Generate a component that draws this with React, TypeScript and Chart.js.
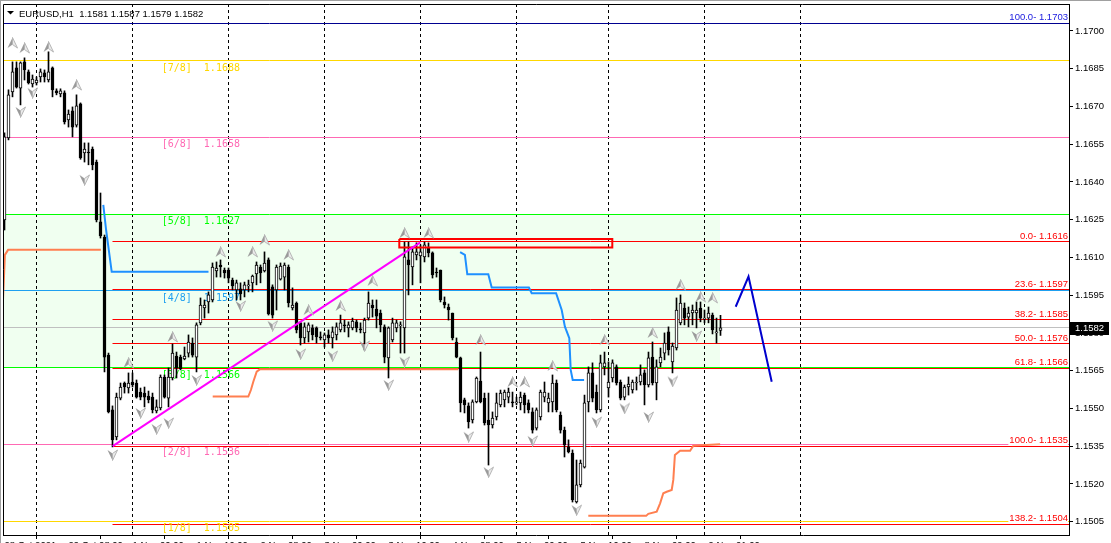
import React, { useEffect, useRef } from 'react';
import { Chart, registerables } from 'chart.js';

Chart.register(...registerables);

// ---------------- data ----------------
const SYMBOL = 'EURUSD,H1';
// sequential bar index: 0 = 29 Oct 00:00 ; first visible bar = 28 Oct 16:00
const FIRST_BAR = -8;

const OPEN = [
  1.16249, 1.16575, 1.16758, 1.16853, 1.16773, 1.16877, 1.16837, 1.16789, 1.16793, 1.16817,
  1.16833, 1.16805, 1.16853, 1.16762, 1.16750, 1.16754, 1.16646, 1.16682, 1.16626, 1.16710,
  1.16515, 1.16519, 1.16531, 1.16479, 1.16241, 1.16181, 1.15712, 1.15494, 1.15387, 1.15541,
  1.15601, 1.15581, 1.15605, 1.15601, 1.15565, 1.15561, 1.15549, 1.15545, 1.15490, 1.15502,
  1.15625, 1.15541, 1.15621, 1.15708, 1.15704, 1.15697, 1.15720, 1.15760, 1.15704, 1.15840,
  1.15899, 1.15923, 1.15931, 1.16046, 1.16070, 1.16050, 1.16050, 1.16010, 1.15971, 1.15975,
  1.15971, 1.15987, 1.15999, 1.16034, 1.16062, 1.16046, 1.16090, 1.15983, 1.15971, 1.16014,
  1.16022, 1.16062, 1.15899, 1.15919, 1.15840, 1.15780, 1.15804, 1.15820, 1.15820, 1.15784,
  1.15772, 1.15792, 1.15780, 1.15792, 1.15812, 1.15832, 1.15820, 1.15820, 1.15844, 1.15816,
  1.15800, 1.15859, 1.15911, 1.15895, 1.15879, 1.15824, 1.15701, 1.15772, 1.15820, 1.15828,
  1.15820, 1.16090, 1.16062, 1.16110, 1.16106, 1.16102, 1.16138, 1.16118, 1.16042, 1.16050,
  1.15923, 1.15903, 1.15879, 1.15764, 1.15701, 1.15534, 1.15510, 1.15454, 1.15526, 1.15609,
  1.15541, 1.15454, 1.15434, 1.15466, 1.15514, 1.15534, 1.15545, 1.15526, 1.15522, 1.15522,
  1.15553, 1.15522, 1.15486, 1.15422, 1.15466, 1.15545, 1.15522, 1.15526, 1.15601, 1.15474,
  1.15414, 1.15347, 1.15323, 1.15128, 1.15196, 1.15267, 1.15526, 1.15641, 1.15565, 1.15494,
  1.15665, 1.15581, 1.15621, 1.15665, 1.15605, 1.15545, 1.15585, 1.15573, 1.15601, 1.15605,
  1.15641, 1.15593, 1.15704, 1.15601, 1.15681, 1.15720, 1.15804, 1.15685, 1.15740, 1.15840,
  1.15899, 1.15863, 1.15879, 1.15879, 1.15899, 1.15855, 1.15859, 1.15871, 1.15800, 1.15810,
];
const HIGH = [
  1.16595, 1.16766, 1.16877, 1.16877, 1.16877, 1.16893, 1.16845, 1.16825, 1.16817, 1.16849,
  1.16845, 1.16917, 1.16857, 1.16770, 1.16770, 1.16762, 1.16686, 1.16698, 1.16746, 1.16714,
  1.16555, 1.16555, 1.16539, 1.16487, 1.16356, 1.16189, 1.15720, 1.15510, 1.15561, 1.15601,
  1.15605, 1.15641, 1.15641, 1.15613, 1.15581, 1.15585, 1.15569, 1.15561, 1.15534, 1.15633,
  1.15633, 1.15661, 1.15756, 1.15724, 1.15712, 1.15744, 1.15792, 1.15780, 1.15840, 1.15939,
  1.15931, 1.15963, 1.16078, 1.16082, 1.16090, 1.16058, 1.16058, 1.16018, 1.16010, 1.15999,
  1.16002, 1.16010, 1.16030, 1.16082, 1.16070, 1.16122, 1.16098, 1.15991, 1.16070, 1.16078,
  1.16078, 1.16070, 1.15979, 1.15923, 1.15844, 1.15840, 1.15840, 1.15832, 1.15824, 1.15804,
  1.15800, 1.15812, 1.15824, 1.15840, 1.15871, 1.15851, 1.15844, 1.15859, 1.15851, 1.15840,
  1.15859, 1.15963, 1.15931, 1.15931, 1.15891, 1.15832, 1.15824, 1.15859, 1.15851, 1.15844,
  1.16161, 1.16161, 1.16142, 1.16158, 1.16150, 1.16161, 1.16158, 1.16122, 1.16058, 1.16050,
  1.15943, 1.15915, 1.15879, 1.15780, 1.15704, 1.15541, 1.15522, 1.15534, 1.15625, 1.15724,
  1.15561, 1.15561, 1.15486, 1.15561, 1.15573, 1.15573, 1.15581, 1.15565, 1.15545, 1.15565,
  1.15561, 1.15534, 1.15502, 1.15502, 1.15573, 1.15605, 1.15561, 1.15633, 1.15613, 1.15486,
  1.15426, 1.15375, 1.15335, 1.15295, 1.15295, 1.15553, 1.15665, 1.15681, 1.15593, 1.15712,
  1.15724, 1.15685, 1.15693, 1.15673, 1.15613, 1.15593, 1.15625, 1.15613, 1.15625, 1.15673,
  1.15653, 1.15724, 1.15764, 1.15693, 1.15740, 1.15800, 1.15824, 1.15760, 1.15939, 1.15951,
  1.15919, 1.15903, 1.15911, 1.15923, 1.15923, 1.15891, 1.15903, 1.15879, 1.15859, 1.15870,
];
const LOW = [
  1.16209, 1.16567, 1.16738, 1.16773, 1.16706, 1.16805, 1.16789, 1.16777, 1.16785, 1.16797,
  1.16797, 1.16797, 1.16738, 1.16746, 1.16738, 1.16630, 1.16618, 1.16579, 1.16618, 1.16490,
  1.16479, 1.16468, 1.16448, 1.16241, 1.16177, 1.15645, 1.15482, 1.15347, 1.15375, 1.15534,
  1.15561, 1.15561, 1.15585, 1.15541, 1.15534, 1.15506, 1.15522, 1.15482, 1.15482, 1.15494,
  1.15541, 1.15506, 1.15613, 1.15621, 1.15653, 1.15693, 1.15704, 1.15704, 1.15645, 1.15832,
  1.15859, 1.15879, 1.15923, 1.16022, 1.16022, 1.16018, 1.15999, 1.15971, 1.15931, 1.15931,
  1.15943, 1.15963, 1.15963, 1.15991, 1.15999, 1.16042, 1.15871, 1.15859, 1.15891, 1.16010,
  1.15971, 1.15903, 1.15891, 1.15800, 1.15752, 1.15760, 1.15764, 1.15772, 1.15760, 1.15772,
  1.15744, 1.15760, 1.15740, 1.15772, 1.15804, 1.15804, 1.15784, 1.15812, 1.15804, 1.15800,
  1.15732, 1.15851, 1.15863, 1.15820, 1.15804, 1.15681, 1.15621, 1.15764, 1.15804, 1.15720,
  1.15720, 1.15951, 1.15991, 1.16090, 1.15999, 1.16082, 1.16102, 1.16018, 1.16022, 1.15923,
  1.15899, 1.15851, 1.15772, 1.15701, 1.15486, 1.15482, 1.15422, 1.15442, 1.15522, 1.15522,
  1.15434, 1.15275, 1.15422, 1.15454, 1.15506, 1.15506, 1.15522, 1.15506, 1.15514, 1.15494,
  1.15482, 1.15482, 1.15402, 1.15414, 1.15454, 1.15526, 1.15486, 1.15486, 1.15486, 1.15402,
  1.15307, 1.15323, 1.15128, 1.15124, 1.15188, 1.15263, 1.15486, 1.15526, 1.15482, 1.15486,
  1.15633, 1.15545, 1.15605, 1.15593, 1.15534, 1.15534, 1.15553, 1.15561, 1.15573, 1.15593,
  1.15514, 1.15585, 1.15593, 1.15534, 1.15665, 1.15693, 1.15712, 1.15641, 1.15732, 1.15832,
  1.15832, 1.15824, 1.15832, 1.15820, 1.15844, 1.15840, 1.15840, 1.15796, 1.15760, 1.15790,
];
const CLOSE = [
  1.16579, 1.16746, 1.16837, 1.16777, 1.16873, 1.16845, 1.16793, 1.16809, 1.16805, 1.16837,
  1.16817, 1.16837, 1.16766, 1.16754, 1.16762, 1.16638, 1.16670, 1.16618, 1.16702, 1.16495,
  1.16531, 1.16515, 1.16468, 1.16249, 1.16185, 1.15704, 1.15486, 1.15375, 1.15545, 1.15585,
  1.15585, 1.15601, 1.15593, 1.15545, 1.15545, 1.15545, 1.15534, 1.15494, 1.15506, 1.15625,
  1.15545, 1.15625, 1.15720, 1.15661, 1.15657, 1.15708, 1.15764, 1.15712, 1.15832, 1.15911,
  1.15911, 1.15951, 1.16062, 1.16058, 1.16062, 1.16038, 1.16018, 1.15987, 1.15999, 1.15955,
  1.15991, 1.15987, 1.16026, 1.16070, 1.16038, 1.16078, 1.15875, 1.15871, 1.16062, 1.16066,
  1.16070, 1.15919, 1.15911, 1.15812, 1.15780, 1.15824, 1.15832, 1.15792, 1.15784, 1.15780,
  1.15792, 1.15780, 1.15804, 1.15824, 1.15840, 1.15828, 1.15832, 1.15847, 1.15820, 1.15812,
  1.15851, 1.15919, 1.15899, 1.15867, 1.15832, 1.15704, 1.15820, 1.15840, 1.15840, 1.15832,
  1.16102, 1.16070, 1.16122, 1.16122, 1.16122, 1.16150, 1.16118, 1.16030, 1.16038, 1.15931,
  1.15911, 1.15891, 1.15780, 1.15704, 1.15522, 1.15514, 1.15446, 1.15526, 1.15621, 1.15526,
  1.15442, 1.15434, 1.15462, 1.15522, 1.15561, 1.15565, 1.15565, 1.15522, 1.15522, 1.15545,
  1.15514, 1.15494, 1.15414, 1.15494, 1.15565, 1.15565, 1.15541, 1.15601, 1.15494, 1.15414,
  1.15355, 1.15327, 1.15136, 1.15196, 1.15283, 1.15522, 1.15641, 1.15541, 1.15494, 1.15681,
  1.15681, 1.15605, 1.15681, 1.15601, 1.15541, 1.15585, 1.15597, 1.15605, 1.15601, 1.15633,
  1.15593, 1.15701, 1.15601, 1.15665, 1.15704, 1.15760, 1.15732, 1.15748, 1.15891, 1.15919,
  1.15859, 1.15879, 1.15891, 1.15891, 1.15859, 1.15855, 1.15879, 1.15812, 1.15800, 1.15820,
];

// visible window (bar units / price)
const X_MIN = -8.375;
const X_MAX = 258.125;
const Y_MIN = 1.14997;
const Y_MAX = 1.17107;

const PRICE_TICKS = [
  1.1505, 1.152, 1.1535, 1.155, 1.1565, 1.158, 1.1595, 1.161, 1.1625, 1.164, 1.1655, 1.167, 1.1685, 1.17,
];
const TIME_TICK_BARS = [-8, 8, 24, 40, 56, 72, 88, 104, 120, 136, 152, 168];
const TIME_TICK_LABELS = [
  '28 Oct 2021', '29 Oct 08:00', '1 Nov 00:00', '1 Nov 16:00', '2 Nov 08:00', '3 Nov 00:00',
  '3 Nov 16:00', '4 Nov 08:00', '5 Nov 00:00', '5 Nov 16:00', '8 Nov 09:00', '9 Nov 01:00',
];
// period separators (first bar of each day; Friday 5 Nov has 23 bars)
const DAY_START_BARS = [0, 24, 48, 72, 96, 120, 143, 167, 191];

// Murrey math levels
const MURREY_NAMES = ['[1/8]', '[2/8]', '[3/8]', '[4/8]', '[5/8]', '[6/8]', '[7/8]'];
const MURREY_LEVELS = [1.15051, 1.15356, 1.15661, 1.15967, 1.16272, 1.16577, 1.16882];
const MURREY_COLORS = ['#FFD700', '#FF69B4', '#00FF00', '#1EA0F0', '#00FF00', '#FF69B4', '#FFD700'];
const MURREY_LABEL_BAR = 31.3;

// Fibonacci retracement
const FIB_HIGH = 1.16163;
const FIB_LOW = 1.1535;
const FIB_START_BAR = 19;
const FIB_RATIOS = [0, 0.236, 0.382, 0.5, 0.618, 1.0, 1.382];
const UPPER_FIB_NAME = '100.0';
const UPPER_FIB_LEVEL = 1.1703;

// zone
const ZONE_TOP = 1.16272;
const ZONE_BOTTOM = 1.15661;
const ZONE_END_BAR = 170.9;

// drawings
const TREND_BARS = [19.05, 95.95];
const TREND_PRICES = [1.1535, 1.1616];
const BOX_BARS = [90.7, 143.95, 143.95, 90.7, 90.7];
const BOX_PRICES = [1.16173, 1.16173, 1.16139, 1.16139, 1.16173];
const FORECAST_BARS = [174.8, 178.0, 183.8];
const FORECAST_PRICES = [1.15904, 1.16024, 1.15606];

// stop lines
const BLUE_A_BARS = [16.7, 17.4, 18.8, 43.0];
const BLUE_A_PRICES = [1.16309, 1.16209, 1.16043, 1.16043];
const BLUE_B_BARS = [105.9, 107.1, 107.7, 112.95, 113.8, 123.1, 123.8, 129.9, 131.3, 132.1, 133.2, 133.55, 134.05, 136.9];
const BLUE_B_PRICES = [1.16121, 1.1611, 1.16033, 1.16033, 1.1598, 1.1598, 1.15958, 1.15958, 1.15891, 1.15825, 1.15779, 1.15653, 1.15613, 1.15613];
const ORANGE_A_BARS = [-8.375, -7.9, -7.1, 16.1];
const ORANGE_A_PRICES = [1.15931, 1.1611, 1.1613, 1.1613];
const ORANGE_B_BARS = [44.05, 52.95, 53.6, 54.2, 55.05, 55.9, 105.45];
const ORANGE_B_PRICES = [1.15547, 1.15547, 1.15573, 1.15606, 1.15646, 1.15656, 1.15656];
const ORANGE_C_BARS = [137.95, 152.4, 152.95, 155.05, 155.9, 156.7, 157.55, 158.8, 159.2, 159.6, 160.9, 163.4, 164.2, 170.9];
const ORANGE_C_PRICES = [1.15073, 1.15073, 1.15081, 1.1509, 1.15123, 1.15163, 1.15169, 1.15176, 1.15216, 1.15315, 1.15332, 1.15332, 1.15352, 1.15358];

// fractals
const UP_FRACTAL_BARS = [-6, -3, 3, 10, 23, 34, 46, 54, 57, 63, 68, 76, 84, 92, 98, 111, 119, 122, 129, 142, 154, 161, 166, 169];
const UP_FRACTAL_PRICES = [
  1.16952, 1.16932, 1.16936, 1.16785, 1.15681, 1.15784, 1.16122, 1.16122, 1.16169, 1.1611, 1.15891, 1.15907,
  1.16007, 1.16197, 1.16197, 1.15772, 1.15605, 1.15605, 1.15669, 1.15772, 1.158, 1.15991, 1.15943, 1.15939,
];
const DOWN_FRACTAL_BARS = [-4, -1, 12, 19, 26, 30, 33, 40, 51, 59, 66, 74, 82, 88, 92, 108, 113, 124, 135, 140, 147, 153, 159, 165];
const DOWN_FRACTAL_PRICES = [
  1.16678, 1.16754, 1.16408, 1.15315, 1.15482, 1.15418, 1.15442, 1.15613, 1.15907, 1.15828, 1.15716, 1.15708,
  1.15748, 1.15593, 1.15685, 1.15387, 1.15247, 1.15371, 1.15096, 1.15446, 1.155, 1.15466, 1.15607, 1.15788,
];

// ---------------- helpers ----------------
const BID = CLOSE[CLOSE.length - 1];
const LABEL_FONT = '9.5px "Liberation Sans", Arial, sans-serif';

function fibValue(r: number) {
  return FIB_HIGH - r * (FIB_HIGH - FIB_LOW);
}

function makeArrow(up: boolean) {
  const c = document.createElement('canvas');
  c.width = 11;
  c.height = 12;
  const g = c.getContext('2d') as CanvasRenderingContext2D;
  const tip = up ? 0.5 : 11.5;
  const base = up ? 11 : 1;
  const notch = up ? 7.5 : 4.5;
  g.beginPath();
  g.moveTo(5.5, tip);
  g.lineTo(0.5, base);
  g.lineTo(5.5, notch);
  g.closePath();
  g.fillStyle = '#9a9a9a';
  g.fill();
  g.beginPath();
  g.moveTo(5.5, tip);
  g.lineTo(10.5, base);
  g.lineTo(5.5, notch);
  g.closePath();
  g.fillStyle = '#ececec';
  g.fill();
  g.strokeStyle = '#b4b4b4';
  g.lineWidth = 1;
  g.stroke();
  return c;
}

const xy = (xs: number[], ys: number[]) => xs.map((x, i) => ({ x, y: ys[i] }));
const flat = (v: number, a: number, b: number) => [{ x: a, y: v }, { x: b, y: v }];
const lineDs = (data: any[], color: string, width: number, order: number, extra: any = {}) => ({
  type: 'line',
  data,
  borderColor: color,
  borderWidth: width,
  pointRadius: 0,
  fill: false,
  tension: 0,
  order,
  ...extra,
});

function drawMurreyLabels(chart: any) {
  const { ctx, scales } = chart;
  const x = scales.x;
  const y = scales.y;
  ctx.save();
  ctx.font = '10px "DejaVu Sans Mono", monospace';
  ctx.textAlign = 'left';
  ctx.textBaseline = 'top';
  const lx = x.getPixelForValue(MURREY_LABEL_BAR);
  MURREY_LEVELS.forEach((v, i) => {
    ctx.fillStyle = MURREY_COLORS[i];
    ctx.fillText(`${MURREY_NAMES[i]}  ${v.toFixed(4)}`, lx, Math.round(y.getPixelForValue(v)) + 2);
  });
  ctx.restore();
}

// keeps 1px horizontal / vertical guide lines on whole device pixels
const snapPlugin = {
  id: 'pixelSnap',
  beforeDatasetDraw(chart: any, args: any) {
    const ds = chart.data.datasets[args.index];
    if (ds.labelsBefore) drawMurreyLabels(chart);
    if (ds.snapY === undefined && ds.snapX === undefined) return;
    const ctx = chart.ctx;
    ctx.save();
    if (ds.snapY !== undefined) {
      const py = chart.scales.y.getPixelForValue(ds.snapY);
      ctx.translate(0, Math.round(py - 0.5) + 0.5 - py);
    } else {
      const px = chart.scales.x.getPixelForValue(ds.snapX);
      ctx.translate(Math.round(px - 0.5) + 0.5 - px, 0);
    }
  },
  afterDatasetDraw(chart: any, args: any) {
    const ds = chart.data.datasets[args.index];
    if (ds.snapY === undefined && ds.snapX === undefined) return;
    chart.ctx.restore();
  },
};

const overlayPlugin = {
  id: 'mtOverlay',
  afterDatasetsDraw(chart: any) {
    const { ctx, chartArea: a, scales } = chart;
    const y = scales.y;
    ctx.save();
    // Fibonacci labels
    ctx.font = LABEL_FONT;
    ctx.textAlign = 'right';
    ctx.textBaseline = 'alphabetic';
    const rx = a.right - 1;
    const fibLabel = (text: string, v: number, color: string) => {
      const py = Math.round(y.getPixelForValue(v));
      const w = ctx.measureText(text).width;
      ctx.fillStyle = '#ffffff';
      ctx.fillRect(rx - w - 1, py - 12, w + 1, 11);
      ctx.fillStyle = color;
      ctx.fillText(text, rx, py - 3);
    };
    FIB_RATIOS.forEach((r) => {
      const v = fibValue(r);
      fibLabel(`${(r * 100).toFixed(1)}- ${v.toFixed(4)}`, v, '#FF0000');
    });
    fibLabel(`${UPPER_FIB_NAME}- ${UPPER_FIB_LEVEL.toFixed(4)}`, UPPER_FIB_LEVEL, '#2020E0');
    ctx.restore();
  },
  afterDraw(chart: any) {
    const { ctx, chartArea: a, scales } = chart;
    const y = scales.y;
    ctx.save();
    // window edge
    ctx.fillStyle = '#a0a0a0';
    ctx.fillRect(0, 0, chart.width, 1);
    ctx.fillRect(0, 0, 1, chart.height);
    // frame (left/top)
    ctx.strokeStyle = '#000';
    ctx.lineWidth = 1;
    ctx.beginPath();
    ctx.moveTo(a.left + 0.5, a.bottom);
    ctx.lineTo(a.left + 0.5, a.top + 0.5);
    ctx.lineTo(a.right, a.top + 0.5);
    ctx.stroke();
    // title
    ctx.fillStyle = '#000';
    ctx.beginPath();
    ctx.moveTo(7, 11);
    ctx.lineTo(14, 11);
    ctx.lineTo(10.5, 14.5);
    ctx.closePath();
    ctx.fill();
    const n = CLOSE.length - 1;
    ctx.font = LABEL_FONT;
    ctx.textAlign = 'left';
    ctx.textBaseline = 'alphabetic';
    ctx.fillText(
      `${SYMBOL}  ${OPEN[n].toFixed(4)} ${HIGH[n].toFixed(4)} ${LOW[n].toFixed(4)} ${CLOSE[n].toFixed(4)}`,
      19,
      16.5
    );
    // bid price box
    const py = Math.round(y.getPixelForValue(BID));
    ctx.fillStyle = '#000';
    ctx.fillRect(a.right + 1, py - 6, 39, 13);
    ctx.fillStyle = '#fff';
    ctx.textBaseline = 'middle';
    ctx.fillText(BID.toFixed(4), a.right + 6, py + 0.5);
    ctx.restore();
  },
};

export default function App() {
  const ref = useRef<HTMLCanvasElement>(null);

  useEffect(() => {
    const canvas = ref.current;
    if (!canvas) return;
    const upImg = makeArrow(true);
    const downImg = makeArrow(false);
    const bars = OPEN.map((_, i) => FIRST_BAR + i);

    const datasets: any[] = [];
    datasets.push({
      type: 'line',
      data: flat(ZONE_TOP, X_MIN, ZONE_END_BAR),
      borderWidth: 0,
      borderColor: 'rgba(0,0,0,0)',
      backgroundColor: '#F0FFF0',
      pointRadius: 0,
      fill: { value: ZONE_BOTTOM },
      order: 100,
    });
    DAY_START_BARS.forEach((b) =>
      datasets.push(
        lineDs([{ x: b, y: Y_MIN }, { x: b, y: Y_MAX }], '#000', 1, 95, { borderDash: [3, 3], snapX: b })
      )
    );
    MURREY_LEVELS.forEach((v, i) =>
      datasets.push(lineDs(flat(v, X_MIN, X_MAX), MURREY_COLORS[i], 1, 90, { snapY: v }))
    );
    datasets.push(lineDs(flat(BID, X_MIN, X_MAX), '#C0C0C0', 1, 88, { snapY: BID }));
    datasets.push(lineDs(flat(UPPER_FIB_LEVEL, X_MIN, X_MAX), '#000090', 1, 86, { snapY: UPPER_FIB_LEVEL }));
    FIB_RATIOS.forEach((r) => {
      const v = fibValue(r);
      datasets.push(lineDs(flat(v, FIB_START_BAR, X_MAX), '#FF0000', 1, 85, { snapY: v }));
    });

    datasets.push(lineDs(xy(ORANGE_A_BARS, ORANGE_A_PRICES), '#FF7F50', 2, 70));
    datasets.push(lineDs(xy(ORANGE_B_BARS, ORANGE_B_PRICES), '#FF7F50', 2, 70));
    datasets.push(lineDs(xy(ORANGE_C_BARS, ORANGE_C_PRICES), '#FF7F50', 2, 70));
    datasets.push(lineDs(xy(BLUE_A_BARS, BLUE_A_PRICES), '#1E90FF', 2, 70));
    datasets.push(lineDs(xy(BLUE_B_BARS, BLUE_B_PRICES), '#1E90FF', 2, 70));

    datasets.push({
      type: 'bar',
      data: bars.map((b, i) => ({ x: b, y: [LOW[i], HIGH[i]] })),
      backgroundColor: '#000',
      borderWidth: 0,
      barThickness: 1,
      grouped: false,
      order: 50,
      labelsBefore: true,
    });
    datasets.push({
      type: 'bar',
      data: bars.map((b, i) => ({ x: b, y: [OPEN[i], CLOSE[i]] })),
      backgroundColor: bars.map((_, i) => (CLOSE[i] >= OPEN[i] ? '#ffffff' : '#000000')),
      borderColor: '#000',
      borderWidth: 1,
      borderSkipped: false,
      barThickness: 3,
      minBarLength: 1,
      grouped: false,
      order: 45,
    });

    datasets.push(lineDs(xy(TREND_BARS, TREND_PRICES), '#FF00FF', 2, 30));
    datasets.push(lineDs(xy(BOX_BARS, BOX_PRICES), '#FF0000', 2, 30));
    datasets.push(lineDs(xy(FORECAST_BARS, FORECAST_PRICES), '#0000CD', 2, 30));

    datasets.push({
      type: 'scatter',
      data: xy(UP_FRACTAL_BARS, UP_FRACTAL_PRICES),
      pointStyle: upImg,
      pointRadius: 5,
      showLine: false,
      order: 20,
    });
    datasets.push({
      type: 'scatter',
      data: xy(DOWN_FRACTAL_BARS, DOWN_FRACTAL_PRICES),
      pointStyle: downImg,
      pointRadius: 5,
      showLine: false,
      order: 20,
    });

    const font = { family: '"Liberation Sans", Arial, sans-serif', size: 9.5 };

    const chart = new Chart(canvas, {
      type: 'line',
      data: { datasets },
      options: {
        animation: false,
        responsive: false,
        maintainAspectRatio: false,
        events: [],
        layout: { autoPadding: false, padding: { left: 3, top: 4, right: 0, bottom: 0 } },
        plugins: {
          legend: { display: false },
          tooltip: { enabled: false },
          title: { display: false },
        },
        scales: {
          x: {
            type: 'linear',
            position: 'bottom',
            min: X_MIN,
            max: X_MAX,
            offset: false,
            afterBuildTicks: (s: any) => {
              s.ticks = TIME_TICK_BARS.map((v) => ({ value: v }));
            },
            afterFit: (s: any) => {
              s.height = 8;
              s.paddingLeft = 0;
              s.paddingRight = 0;
            },
            ticks: {
              autoSkip: false,
              maxRotation: 0,
              minRotation: 0,
              align: 'start',
              padding: 1,
              color: '#000',
              font,
              callback: (_v: any, i: number) => TIME_TICK_LABELS[i],
            },
            grid: { drawOnChartArea: false, drawTicks: true, tickLength: 4, color: '#000' },
            border: { display: true, color: '#000' },
          },
          y: {
            type: 'linear',
            position: 'right',
            min: Y_MIN,
            max: Y_MAX,
            afterBuildTicks: (s: any) => {
              s.ticks = PRICE_TICKS.map((v) => ({ value: v }));
            },
            afterFit: (s: any) => {
              s.width = 42;
              s.paddingTop = 0;
              s.paddingBottom = 0;
            },
            ticks: {
              autoSkip: false,
              padding: 2,
              color: '#000',
              font,
              callback: (v: any) => Number(v).toFixed(4),
            },
            grid: { drawOnChartArea: false, drawTicks: true, tickLength: 4, color: '#000' },
            border: { display: true, color: '#000' },
          },
        },
      } as any,
      plugins: [snapPlugin, overlayPlugin],
    } as any);

    return () => chart.destroy();
  }, []);

  return (
    <div style={{ position: 'absolute', left: 0, top: 0, width: 1111, height: 543, background: '#fff' }}>
      <canvas ref={ref} width={1111} height={543} style={{ display: 'block' }} />
    </div>
  );
}
